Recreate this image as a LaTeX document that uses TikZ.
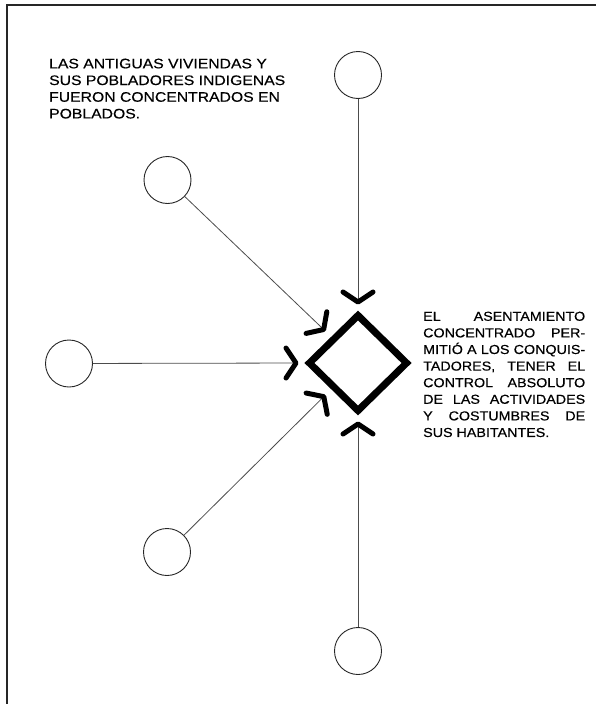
\documentclass[tikz,border=0pt]{standalone}
\usepackage{fontspec}
\setmainfont{Liberation Sans}
\newfontfamily\widefont[FakeStretch=1.14,FakeBold=0.4]{Liberation Sans}
\newfontfamily\midfont[FakeStretch=1.1,FakeBold=0.4]{Liberation Sans}
\usetikzlibrary{shapes.geometric,arrows.meta}
\begin{document}
\begin{tikzpicture}[x=1pt,y=-1pt,
  ring/.style={circle,draw=black!85,line width=0.9pt,minimum size=47pt,inner sep=0pt},
  link/.style={draw=black!70,line width=0.8pt,-{Straight Barb[length=10pt,width=30pt,line width=5pt 0,round,color=black]},shorten >=6pt},
  hub/.style={diamond,draw=black,line width=7pt,minimum width=100pt,minimum height=98pt,inner sep=0pt},
  frame/.style={draw=black!85,line width=1.1pt},
  lefttext/.style={anchor=north west,inner sep=0pt,align=left,font=\widefont\fontsize{13.8}{16.7}\selectfont},
  righttext/.style={anchor=north west,inner sep=0pt,align=left,font=\midfont\fontsize{13}{16.6}\selectfont}]
\useasboundingbox (0,0) rectangle (596,704);
\coordinate (fb) at (7,704);
\coordinate (fc) at (7,5);
\coordinate (fr) at (596,5);
\draw[frame] (fb) -- (fc) -- (fr);

\node[hub] (d) at (358,363) {};
\node[ring] (ct) at (358,75) {};
\node[ring] (cul) at (167.5,180) {};
\node[ring] (cl) at (69,363.5) {};
\node[ring] (cll) at (167,552) {};
\node[ring] (cb) at (358,651) {};

\draw[link] (ct) -- (d.north);
\draw[link] (cb) -- (d.south);
\draw[link] (cl) -- (d.west);
\draw[link,shorten >=8pt] (cul) -- (d.north west);
\draw[link,shorten >=8pt] (cll) -- (d.south west);

\node[lefttext] (tl) at (49,58.5) {LAS ANTIGUAS VIVIENDAS Y\\SUS POBLADORES INDIGENAS\\FUERON CONCENTRADOS EN\\POBLADOS.};
\node[righttext] (tr) at (423,311.5) {\makebox[162pt][s]{EL ASENTAMIENTO}\\
\makebox[162pt][s]{CONCENTRADO PER-}\\
\makebox[162pt][s]{MITIÓ A LOS CONQUIS-}\\
\makebox[162pt][s]{TADORES, TENER EL}\\
\makebox[162pt][s]{CONTROL ABSOLUTO}\\
\makebox[162pt][s]{DE LAS ACTIVIDADES}\\
\makebox[162pt][s]{Y COSTUMBRES DE}\\
SUS HABITANTES.};
\end{tikzpicture}
\end{document}
